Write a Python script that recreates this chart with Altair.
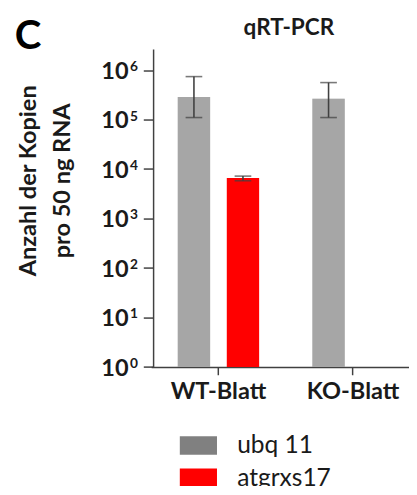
import altair as alt
import pandas as pd

# ---- data ----
groups = ["WT-Blatt", "WT-Blatt", "KO-Blatt"]
series = ["ubq 11", "atgrxs17", "ubq 11"]
copies = [2.87e5, 6.6e3, 2.65e5]
err_low = [1.1e5, 5.8e3, 1.1e5]
err_high = [7.4e5, 7.2e3, 5.6e5]

group_order = ["WT-Blatt", "KO-Blatt"]
series_order = ["ubq 11", "atgrxs17"]
series_colors = ["#808080", "#ff0000"]
y_ticks = [1, 10, 100, 1000, 10000, 100000, 1000000]
y_tick_base = ["10", "10", "10", "10", "10", "10", "10"]
y_tick_exp = ["0", "1", "2", "3", "4", "5", "6"]
y_title = ["Anzahl der Kopien", "pro 50 ng RNA"]
chart_title = "qRT-PCR"
panel_label = ["C"]

df = pd.DataFrame({
    "group": groups,
    "series": series,
    "copies": copies,
    "low": err_low,
    "high": err_high,
})
ticks_df = pd.DataFrame({"v": y_ticks, "base": y_tick_base, "exp": y_tick_exp})

FONT = "Lato"
INK = "#1a1a1a"
AX = "#404040"

x_enc = alt.X(
    "group:N",
    sort=group_order,
    scale=alt.Scale(domain=group_order, range=[-2, 272.6], paddingInner=0, paddingOuter=0),
    axis=alt.Axis(
        title=None, labelAngle=0, labelFont=FONT, labelFontSize=24, labelFontWeight="bold",
        labelColor=INK, tickSize=8, tickColor=AX, tickWidth=1.5, domainColor=AX,
        domainWidth=1.5, labelPadding=5, grid=False,
    ),
)
xo_enc = alt.XOffset(
    "series:N", sort=series_order,
    scale=alt.Scale(domain=series_order, paddingInner=0.34, paddingOuter=0.543),
)
y_scale = alt.Scale(type="log", domain=[1, 2.68e6], nice=False)
y_axis = alt.Axis(
    values=y_ticks, labels=False,
    tickSize=10, tickColor=AX, tickWidth=1.5, domainColor=AX, domainWidth=1.5,
    grid=False,
    title=y_title, titleFont=FONT, titleFontSize=24, titleFontWeight="bold",
    titleColor=INK, titleAngle=270, titleLineHeight=35, titleX=-120, titleY=134,
    titleBaseline="alphabetic", titleAlign="center",
)

base = alt.Chart(df)

bars = base.mark_bar().encode(
    x=x_enc,
    xOffset=xo_enc,
    y=alt.Y("copies:Q", scale=y_scale, axis=y_axis),
    y2=alt.datum(1),
    color=alt.Color(
        "series:N", sort=series_order,
        scale=alt.Scale(domain=series_order, range=series_colors),
        legend=alt.Legend(
            title=None, orient="none", legendX=33.7, legendY=392,
            symbolType="M-1.58,-0.79H1.58V0.79H-1.58Z", symbolSize=576,
            symbolStrokeWidth=0, symbolOpacity=1,
            labelFont=FONT, labelFontSize=25, labelColor=INK, labelOffset=27,
            rowPadding=7, padding=0, direction="vertical",
        ),
    ),
)

# lighten the grey bars (legend swatch stays darker, as in the reference)
bar_sheen = base.transform_filter(alt.datum.series == series_order[0]).mark_bar(
    color="#ffffff", opacity=0.3
).encode(
    x=alt.X("group:N", sort=group_order),
    xOffset=alt.XOffset("series:N", sort=series_order),
    y=alt.Y("copies:Q"),
    y2=alt.datum(1),
)

err_rule = base.mark_rule(color=AX, strokeWidth=1.6).encode(
    x=alt.X("group:N", sort=group_order),
    xOffset=alt.XOffset("series:N", sort=series_order),
    y=alt.Y("low:Q"),
    y2="high:Q",
)
cap_low = base.mark_tick(color=AX, size=17, thickness=1.6).encode(
    x=alt.X("group:N", sort=group_order),
    xOffset=alt.XOffset("series:N", sort=series_order),
    y=alt.Y("low:Q"),
)
cap_high = base.mark_tick(color=AX, size=17, thickness=1.6).encode(
    x=alt.X("group:N", sort=group_order),
    xOffset=alt.XOffset("series:N", sort=series_order),
    y=alt.Y("high:Q"),
)

tick_base = alt.Chart(ticks_df).mark_text(
    font=FONT, fontSize=24, fontWeight="bold", align="right", baseline="alphabetic",
    color=INK, dy=9,
).encode(x=alt.value(-25), y=alt.Y("v:Q"), text="base:N")
tick_exp = alt.Chart(ticks_df).mark_text(
    font=FONT, fontSize=14, fontWeight="bold", align="left", baseline="alphabetic",
    color=INK, dy=1,
).encode(x=alt.value(-23.5), y=alt.Y("v:Q"), text="exp:N")

label = alt.Chart(pd.DataFrame({"t": panel_label})).mark_text(
    font=FONT, fontSize=41, fontWeight="bold", align="left", baseline="alphabetic", color="#000",
).encode(x=alt.value(-141), y=alt.value(0), text="t:N")

chart = alt.layer(
    bars, bar_sheen, err_rule, cap_low, cap_high, tick_base, tick_exp, label
).properties(
    width=253,
    height=324.3,
    title=alt.TitleParams(
        chart_title, font=FONT, fontSize=23, fontWeight="bold", color=INK,
        anchor="middle", baseline="alphabetic", offset=0, dx=12, dy=42,
    ),
    autosize=alt.AutoSizeParams(type="none"),
    padding={"left": 148, "top": 37, "right": 8, "bottom": 117},
).configure_view(stroke=None)

chart.save("out.html", embed_options={"renderer": "svg", "actions": False})
